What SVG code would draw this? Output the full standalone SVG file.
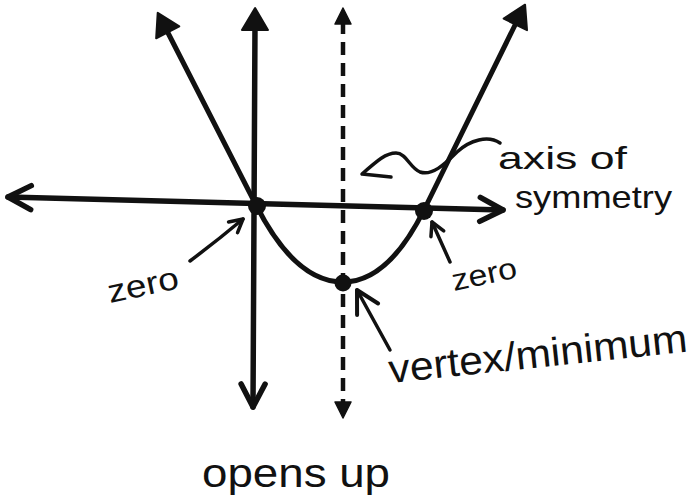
<svg xmlns="http://www.w3.org/2000/svg" width="693" height="500" viewBox="0 0 693 500">
  <style>
    .ink { stroke: #111; fill: none; stroke-linecap: round; stroke-linejoin: round; }
    .axis { stroke-width: 5.5; }
    .curve { stroke-width: 5; }
    .dash { stroke-width: 4.5; stroke-dasharray: 13 8; stroke-linecap: butt; }
    .lbl { stroke-width: 3.5; }
    .dot { fill: #111; }
    text { font-family: "Liberation Sans", Arial, sans-serif; fill: #111; }
  </style>
  <defs>
    <marker id="chev" markerUnits="userSpaceOnUse" viewBox="-30 -18 36 36" markerWidth="36" markerHeight="36" refX="0" refY="0" orient="auto-start-reverse">
      <path d="M-23,-12 L0,0 L-23,12" fill="none" stroke="#111" stroke-width="5.5" stroke-linecap="round" stroke-linejoin="round"/>
    </marker>
    <marker id="tri" markerUnits="userSpaceOnUse" viewBox="-30 -18 36 36" markerWidth="36" markerHeight="36" refX="-16" refY="0" orient="auto-start-reverse">
      <path d="M0,0 L-22,-13 L-22,13 Z" fill="#111" stroke="#111" stroke-width="2" stroke-linejoin="round"/>
    </marker>
    <marker id="tris" markerUnits="userSpaceOnUse" viewBox="-20 -12 24 24" markerWidth="24" markerHeight="24" refX="-13" refY="0" orient="auto-start-reverse">
      <path d="M0,0 L-16,-8 L-16,8 Z" fill="#111" stroke="#111" stroke-width="1.5" stroke-linejoin="round"/>
    </marker>
    <marker id="chevm" markerUnits="userSpaceOnUse" viewBox="-28 -16 32 32" markerWidth="32" markerHeight="32" refX="0" refY="0" orient="auto">
      <path d="M-22,-12 L0,0 L-22,12" fill="none" stroke="#111" stroke-width="4" stroke-linecap="round" stroke-linejoin="round"/>
    </marker>
    <marker id="chevs" markerUnits="userSpaceOnUse" viewBox="-20 -12 24 24" markerWidth="24" markerHeight="24" refX="0" refY="0" orient="auto">
      <path d="M-13,-7 L0,0 L-13,7" fill="none" stroke="#111" stroke-width="3.5" stroke-linecap="round" stroke-linejoin="round"/>
    </marker>
  </defs>

  <g id="axes">
    <line id="x-axis" class="ink axis" x1="8" y1="197" x2="503" y2="210" marker-start="url(#chev)" marker-end="url(#chev)"/>
    <line id="y-axis" class="ink axis" x1="253" y1="407" x2="255" y2="24" marker-start="url(#chev)" marker-end="url(#tri)"/>
    <line id="axis-of-symmetry" class="ink dash" x1="343" y1="21" x2="343" y2="405" marker-start="url(#tris)" marker-end="url(#tris)"/>
  </g>

  <g id="parabola">
    <path class="ink curve" d="M165,27 L256,205 Q295,282 343,282 Q388,282 424,210 L518,19" marker-start="url(#tri)" marker-end="url(#tri)"/>
  </g>

  <g id="points">
    <circle id="zero-left" class="dot" cx="257" cy="206" r="9"/>
    <circle id="zero-right" class="dot" cx="424" cy="211" r="9"/>
    <circle id="vertex" class="dot" cx="343" cy="283" r="8.5"/>
  </g>

  <g id="connectors">
    <path class="ink lbl" d="M190,261 Q218,240 243,219" marker-end="url(#chevs)"/>
    <line class="ink lbl" x1="450" y1="262" x2="432" y2="222" marker-end="url(#chevs)"/>
    <line class="ink lbl" x1="390" y1="350" x2="357" y2="290" marker-end="url(#chevm)"/>
    <path class="ink lbl" d="M500,143 C488,135 470,140 457,152 C444,165 432,176 420,172 C410,168 406,153 396,153 C386,153 378,160 362,174 L391,177"/>
  </g>

  <g id="labels">
    <text id="label-axis1" x="498" y="169" font-size="32" textLength="129" lengthAdjust="spacingAndGlyphs">axis of</text>
    <text id="label-axis2" x="515" y="208" font-size="32" textLength="157" lengthAdjust="spacingAndGlyphs">symmetry</text>
    <text id="label-zero-left" x="110" y="303" font-size="32" textLength="72" lengthAdjust="spacingAndGlyphs" transform="rotate(-12 110 303)">zero</text>
    <text id="label-zero-right" x="454" y="291" font-size="30" textLength="66" lengthAdjust="spacingAndGlyphs" transform="rotate(-12 454 291)">zero</text>
    <text id="label-vertex" x="390" y="383" font-size="40" textLength="300" lengthAdjust="spacingAndGlyphs" transform="rotate(-6 390 383)">vertex/minimum</text>
    <text id="label-opens" x="202" y="487" font-size="40" textLength="188" lengthAdjust="spacingAndGlyphs">opens up</text>
  </g>
</svg>
